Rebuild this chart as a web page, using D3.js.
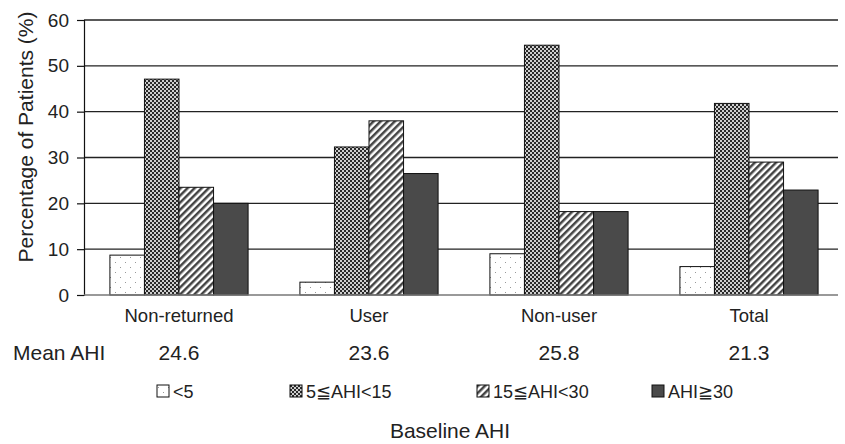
<!DOCTYPE html>
<html>
<head>
<meta charset="utf-8">
<script src="https://cdn.jsdelivr.net/npm/d3@7/dist/d3.min.js"></script>
<style>
  html, body { margin: 0; padding: 0; background: #fff; }
  svg { display: block; font-family: "Liberation Sans", Arial, "DejaVu Sans", sans-serif; }
</style>
</head>
<body>
<svg id="chart" width="845" height="444"></svg>
<script>
const categories = ["Non-returned", "User", "Non-user", "Total"];
const seriesNames = ["<5", "5\u2266AHI<15", "15\u2266AHI<30", "AHI\u226730"];
const lt5 = [8.7, 2.8, 9.0, 6.2];
const ahi5to15 = [47.1, 32.3, 54.5, 41.8];
const ahi15to30 = [23.5, 38.0, 18.2, 29.0];
const ahiGe30 = [20.0, 26.5, 18.2, 22.9];
const meanAHI = ["24.6", "23.6", "25.8", "21.3"];
const yTicks = [0, 10, 20, 30, 40, 50, 60];

const seriesValues = [lt5, ahi5to15, ahi15to30, ahiGe30];
const fills = ["url(#pDots)", "url(#pCheck)", "url(#pStripe)", "#4a4a4a"];

const svg = d3.select("#chart");
const defs = svg.append("defs");

// dots pattern
const pd = defs.append("pattern").attr("id", "pDots").attr("patternUnits", "userSpaceOnUse")
  .attr("width", 10).attr("height", 10);
pd.append("rect").attr("width", 10).attr("height", 10).attr("fill", "#fff");
pd.append("rect").attr("x", 1).attr("y", 2).attr("width", 1).attr("height", 1).attr("fill", "#999");
pd.append("rect").attr("x", 6).attr("y", 7).attr("width", 1).attr("height", 1).attr("fill", "#999");

// checker pattern
const pc = defs.append("pattern").attr("id", "pCheck").attr("patternUnits", "userSpaceOnUse")
  .attr("width", 4).attr("height", 4);
pc.append("rect").attr("width", 4).attr("height", 4).attr("fill", "#cfcfcf");
pc.append("rect").attr("x", 0).attr("y", 0).attr("width", 2).attr("height", 2).attr("fill", "#2a2a2a");
pc.append("rect").attr("x", 2).attr("y", 2).attr("width", 2).attr("height", 2).attr("fill", "#2a2a2a");

// diagonal stripes
const ps = defs.append("pattern").attr("id", "pStripe").attr("patternUnits", "userSpaceOnUse")
  .attr("width", 5).attr("height", 5).attr("patternTransform", "rotate(45)");
ps.append("rect").attr("width", 5).attr("height", 5).attr("fill", "#fff");
ps.append("rect").attr("x", 0).attr("y", 0).attr("width", 2.5).attr("height", 5).attr("fill", "#444");

const mLeft = 84, mRight = 844, mTop = 20, mBottom = 295;
const x0 = d3.scaleBand().domain(categories).range([mLeft, mRight]).padding(0);
const x1 = d3.scaleBand().domain(d3.range(seriesNames.length)).range([0, x0.bandwidth()])
  .paddingInner(0).paddingOuter(0.75);
const y = d3.scaleLinear().domain([0, 60]).range([mBottom, mTop]);

// gridlines
svg.append("g").selectAll("line").data(yTicks.filter(t => t > 0)).join("line")
  .attr("x1", mLeft).attr("x2", 838)
  .attr("y1", d => y(d)).attr("y2", d => y(d))
  .attr("stroke", "#222").attr("stroke-width", 1.4);

// y axis
const yAxis = svg.append("g").attr("transform", `translate(${mLeft},0)`)
  .call(d3.axisLeft(y).tickValues(yTicks).tickSize(7).tickPadding(8));
yAxis.select(".domain").attr("stroke", "#111").attr("stroke-width", 1.2);
yAxis.selectAll(".tick line").attr("stroke", "#111").attr("stroke-width", 1.2);
yAxis.selectAll(".tick text").attr("font-size", 19).attr("fill", "#222")
  .attr("font-family", "Liberation Sans, Arial, sans-serif");

// bars
const groups = svg.append("g").selectAll("g").data(categories).join("g")
  .attr("transform", d => `translate(${x0(d)},0)`);
groups.selectAll("rect").data((d, ci) => seriesValues.map((s, si) => ({ si, v: s[ci] })))
  .join("rect")
  .attr("x", d => x1(d.si))
  .attr("width", x1.bandwidth())
  .attr("y", d => y(d.v))
  .attr("height", d => y(0) - y(d.v))
  .attr("fill", d => fills[d.si])
  .attr("stroke", "#111").attr("stroke-width", 1);

// baseline
svg.append("line").attr("x1", mLeft).attr("x2", 838).attr("y1", y(0)).attr("y2", y(0))
  .attr("stroke", "#777").attr("stroke-width", 1.4);

// category labels
svg.append("g").selectAll("text").data(categories).join("text")
  .attr("x", d => x0(d) + x0.bandwidth() / 2)
  .attr("y", 322)
  .attr("text-anchor", "middle").attr("font-size", 18.5).attr("fill", "#222")
  .text(d => d);

// mean AHI row
svg.append("text").attr("x", 13).attr("y", 360).attr("font-size", 21).attr("fill", "#222").text("Mean AHI");
svg.append("g").selectAll("text").data(meanAHI).join("text")
  .attr("x", (d, i) => x0(categories[i]) + x0.bandwidth() / 2)
  .attr("y", 360)
  .attr("text-anchor", "middle").attr("font-size", 21).attr("fill", "#222")
  .text(d => d);

// legend
const legendSquareX = [157, 290, 477, 652];
const legend = svg.append("g").selectAll("g").data(seriesNames).join("g")
  .attr("transform", (d, i) => `translate(${legendSquareX[i]},385)`);
legend.append("rect").attr("width", 12).attr("height", 12)
  .attr("fill", (d, i) => fills[i]).attr("stroke", "#111").attr("stroke-width", 1);
legend.append("text").attr("x", d => d === "<5" ? 16 : 16).attr("y", 12.5)
  .attr("font-size", 18).attr("fill", "#222").text(d => d);

// x title
svg.append("text").attr("x", 450).attr("y", 438).attr("text-anchor", "middle")
  .attr("font-size", 21).attr("fill", "#222").text("Baseline AHI");

// y title
svg.append("text").attr("transform", "translate(33,137) rotate(-90)")
  .attr("text-anchor", "middle").attr("font-size", 21).attr("fill", "#222")
  .text("Percentage of Patients (%)");
</script>
</body>
</html>
